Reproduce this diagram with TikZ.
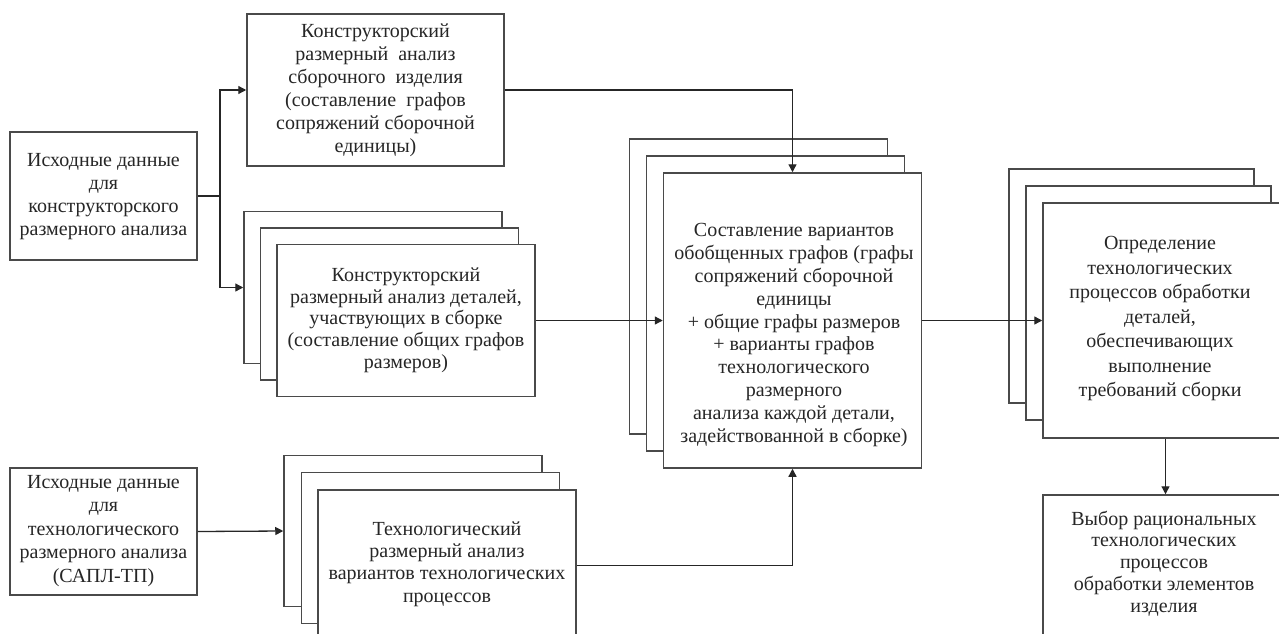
\documentclass[tikz,border=0pt]{standalone}
\usepackage{fontspec}
\setmainfont{Liberation Serif}
\usetikzlibrary{arrows.meta}

\definecolor{edge}{HTML}{4A4A4A}
\definecolor{ink}{HTML}{262626}

\tikzset{
  box/.style={draw=edge, line width=1.5pt, fill=white, inner sep=0pt},
  txt/.style={text=ink, align=center, inner sep=0pt,
              font=\fontsize{20}{#1}\selectfont},
  txt/.default=23,
  arr/.style={draw=black!85, line width=1.3pt,
              -{Triangle[length=8pt,width=8pt]}},
  wire/.style={draw=black!85, line width=1.3pt}
}

\begin{document}
\begin{tikzpicture}[x=1pt,y=-1pt]
  \useasboundingbox (0,0) rectangle (1279,634);
  \fill[white] (0,0) rectangle (1279,634);
  \clip (0,0) rectangle (1279,634);

  % source data for the design analysis
  \node[box, minimum width=187pt, minimum height=128pt] (A) at (103.5,196) {};
  \node[txt] (At) at (103.5,197) {Исходные данные\\для\\конструкторского\\размерного анализа};

  % design analysis of the assembly
  \node[box, minimum width=257pt, minimum height=152pt] (B) at (375.5,90) {};
  \node[txt] (Bt) at (375.5,90) {Конструкторский\\размерный \ анализ\\сборочного \ изделия\\(составление \ графов\\сопряжений сборочной\\единицы)};

  % design analysis of the parts (stack of three sheets)
  \node[box, minimum width=258pt, minimum height=152pt] (Cb) at (373,287.5) {};
  \node[box, minimum width=258pt, minimum height=152pt] (Cm) at (389.5,304) {};
  \node[box, minimum width=258pt, minimum height=152pt] (C) at (406,320.5) {};
  \node[txt=21.7] (Ct) at (406,320) {Конструкторский\\размерный анализ деталей,\\участвующих в сборке\\(составление общих графов\\размеров)};

  % generalised graphs (stack)
  \node[box, minimum width=258pt, minimum height=295pt] (Db) at (758.5,286.5) {};
  \node[box, minimum width=258pt, minimum height=295pt] (Dm) at (775.5,303.5) {};
  \node[box, minimum width=258pt, minimum height=295pt] (D) at (792.5,320.5) {};
  \node[txt=22.9] (Dt) at (794,335) {Составление вариантов\\обобщенных графов (графы\\сопряжений сборочной\\единицы\\+ общие графы размеров\\+ варианты графов\\технологического\\размерного\\анализа каждой детали,\\задействованной в сборке)};

  % machining processes (stack)
  \node[box, minimum width=245pt, minimum height=234pt] (Eb) at (1131.5,286) {};
  \node[box, minimum width=245pt, minimum height=234pt] (Em) at (1148.5,303) {};
  \node[box, minimum width=245pt, minimum height=235pt] (E) at (1165.5,320.5) {};
  \node[txt=24.5] (Et) at (1160,319) {Определение\\технологических\\процессов обработки\\деталей,\\обеспечивающих\\выполнение\\требований сборки};

  % choice of rational processes
  \node[box, minimum width=243pt, minimum height=145pt] (F) at (1164.5,567.5) {};
  \node[txt=21.8] (Ft) at (1164,563.5) {Выбор рациональных\\технологических\\процессов\\обработки элементов\\изделия};

  % source data for the process analysis
  \node[box, minimum width=187pt, minimum height=127pt] (G) at (103.5,531.5) {};
  \node[txt=23.5] (Gt) at (103.5,531) {Исходные данные\\для\\технологического\\размерного анализа\\(САПЛ-ТП)};

  % process dimensional analysis (stack)
  \node[box, minimum width=258pt, minimum height=151pt] (Hb) at (413,531) {};
  \node[box, minimum width=258pt, minimum height=151pt] (Hm) at (430.5,548) {};
  \node[box, minimum width=258pt, minimum height=151pt] (H) at (447,565.5) {};
  \node[txt=22.3] (Ht) at (447,564) {Технологический\\размерный анализ\\вариантов технологических\\процессов};

  % connectors
  \coordinate (J) at (220,196);
  \draw[wire] (A.east) -- (J);
  \draw[arr] (J) |- (B.west);
  \draw[arr] (J) |- (Cb.west);
  \draw[arr] (B.east) -| (D.north);
  \draw[arr] (C.east) -- (D.west);
  \draw[arr] (D.east) -- (E.west);
  \draw[arr] (E.south) -- (E.south |- F.north);
  \draw[arr] (G.east) -- (Hb.west);
  \draw[arr] (H.east) -| (D.south);
\end{tikzpicture}
\end{document}
